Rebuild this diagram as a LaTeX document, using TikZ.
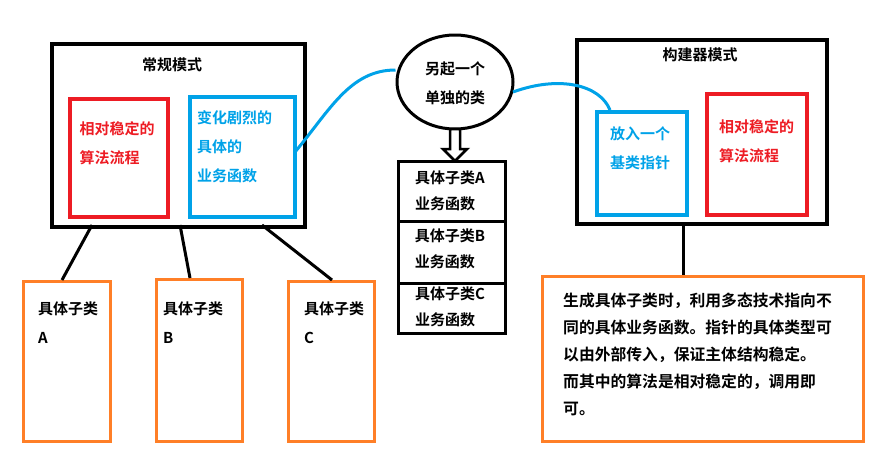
\documentclass[tikz,border=0pt]{standalone}
\usepackage{fontspec}
\setmainfont{Noto Sans CJK SC}[BoldFont={* Bold}]
\usetikzlibrary{shapes.geometric}
\definecolor{myred}{RGB}{237,28,36}
\definecolor{myblue}{RGB}{0,162,232}
\definecolor{myorange}{RGB}{255,127,39}
\tikzset{
 bx/.style={draw, line width=3.5pt, anchor=north west, inner sep=0pt},
 blk/.style={bx, draw=black},
 rd/.style={bx, draw=myred},
 bl/.style={bx, draw=myblue},
 og/.style={bx, draw=myorange, line width=3pt},
 txt/.style={font=\bfseries\fontsize{15}{29}\selectfont, align=left, inner sep=0pt},
 stk/.style={txt, font=\bfseries\fontsize{15}{26}\selectfont},
 conn/.style={line width=3pt},
}
\begin{document}
\begin{tikzpicture}[x=1pt,y=-1pt]
\useasboundingbox (0,0) rectangle (872,472);
% left
\node[blk, minimum width=253pt, minimum height=183pt] (L) at (50,42) {};
\node[txt] (Lt) at (172,65) {常规模式};
\node[rd, minimum width=98pt, minimum height=118pt] (Lr) at (68,97) {};
\node[txt, text=myred] (Lrt) at (117,143) {相对稳定的\\算法流程};
\node[bl, minimum width=105pt, minimum height=120pt] (Lb) at (188,95) {};
\node[txt, text=myblue, anchor=west] (Lbt) at (197,147) {变化剧烈的\\具体的\\业务函数};
\node[og, minimum width=87pt, minimum height=160pt] (A) at (22,280) {};
\node[txt, anchor=north west] (At) at (38,302) {具体子类\\A};
\node[og, minimum width=86pt, minimum height=162pt] (B) at (155,278) {};
\node[txt, anchor=north west] (Bt) at (163,302) {具体子类\\B};
\node[og, minimum width=86pt, minimum height=160pt] (C) at (287,280) {};
\node[txt, anchor=north west] (Ct) at (304,302) {具体子类\\C};
\coordinate (l1) at (92,225); \coordinate (l2) at (180,225); \coordinate (l3) at (262,225);
\draw[conn] (l1) -- (A.north -| 62,0);
\draw[conn] (l2) -- (B.north -| 190,0);
\draw[conn] (l3) -- (C.north -| 332,0);
% middle
\node[draw, ellipse, line width=3pt, minimum width=116pt, minimum height=94pt] (E) at (455,82) {};
\node[txt] (Et) at (455,83) {另起一个\\单独的类};
\filldraw[fill=white, line width=2.5pt] (450,129) -- (450,149) -- (443,149) -- (455,161) -- (467,149) -- (460,149) -- (460,129) -- cycle;
\node[blk, line width=3pt, minimum width=107pt, minimum height=60pt] (S1) at (397,160) {};
\node[blk, line width=3pt, minimum width=107pt, minimum height=62pt] (S2) at (397,220) {};
\node[blk, line width=3pt, minimum width=107pt, minimum height=50pt] (S3) at (397,282) {};
\node[stk] at (450,191) {具体子类A\\业务函数};
\node[stk] at (450,249) {具体子类B\\业务函数};
\node[stk] at (450,307) {具体子类C\\业务函数};
% right
\node[blk, minimum width=250pt, minimum height=184pt] (R) at (575,38) {};
\node[txt] (Rt) at (700,55) {构建器模式};
\node[bl, minimum width=90pt, minimum height=103pt] (Rb) at (595,110) {};
\node[txt, text=myblue] (Rbt) at (640,148) {放入一个\\基类指针};
\node[rd, minimum width=100pt, minimum height=121pt] (Rr) at (705,92) {};
\node[txt, text=myred, anchor=west] (Rrt) at (719,141) {相对稳定的\\算法流程};
\node[og, minimum width=321pt, minimum height=165pt] (N) at (541,275) {};
\node[txt, anchor=north west, font=\bfseries\fontsize{15.8}{27}\selectfont] (Nt) at (563,293) {生成具体子类时，利用多态技术指向不\\同的具体业务函数。指针的具体类型可\\以由外部传入，保证主体结构稳定。\\而其中的算法是相对稳定的，调用即\\可。};
\coordinate (r1) at (683,222);
\draw[conn] (r1) -- (N.north -| r1);
% blue curves
\draw[conn, myblue] (295,152) .. controls (330,110) and (350,70) .. (E.west |- 0,70);
\draw[conn, myblue] (513,92) .. controls (560,75) and (600,85) .. (610,110);
\end{tikzpicture}
\end{document}
